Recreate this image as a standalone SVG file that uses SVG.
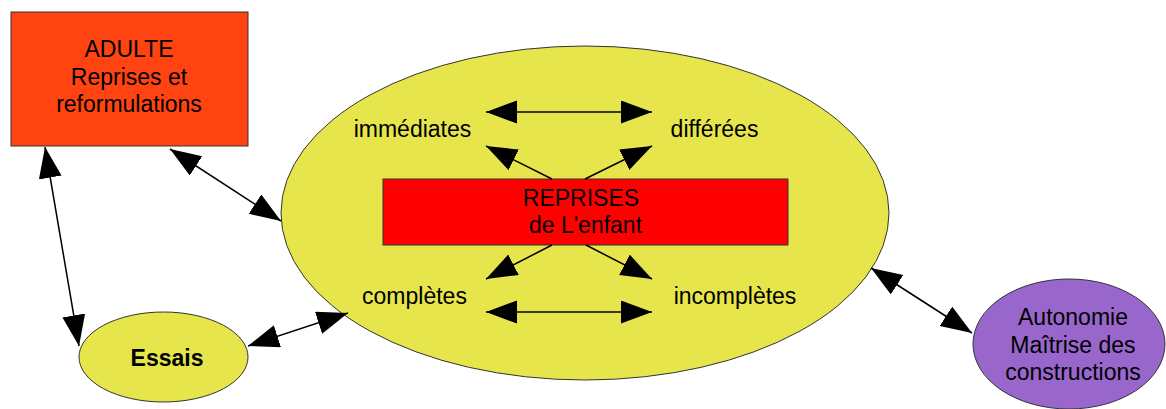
<svg xmlns="http://www.w3.org/2000/svg" width="1166" height="409" viewBox="0 0 1166 409">
<defs>
<marker id="ah" markerUnits="userSpaceOnUse" markerWidth="32" markerHeight="24" refX="31" refY="11.5" orient="auto-start-reverse" viewBox="0 0 32 24">
<path d="M0,0 L31,11.5 L0,23 z" fill="#000"/>
</marker>
</defs>
<style>
text{font-family:"Liberation Sans",Arial,sans-serif;font-size:23px;fill:#000;text-anchor:middle}
.b{font-weight:bold}
.shape{stroke:#333;stroke-width:1}
.yel{fill:#e6e64c}
.con{stroke:#000;stroke-width:1.5;fill:none;marker-start:url(#ah);marker-end:url(#ah)}
</style>
<rect width="1166" height="409" fill="#fff"/>
<g id="reprises-ellipse">
<ellipse class="shape yel" cx="585" cy="213" rx="304" ry="167"/>
</g>
<g id="adulte">
<rect class="shape" x="11" y="12" width="237" height="134" fill="#ff4411"/>
<text x="129" y="57">ADULTE</text>
<text x="129" y="85">Reprises et</text>
<text x="129" y="112">reformulations</text>
</g>
<g id="essais">
<ellipse class="shape yel" cx="163.5" cy="357" rx="84.5" ry="45"/>
<text class="b" x="167" y="366">Essais</text>
</g>
<g id="autonomie">
<ellipse class="shape" cx="1069" cy="344" rx="96" ry="65" fill="#9966cc"/>
<text x="1073" y="325">Autonomie</text>
<text x="1073" y="353">Maîtrise des</text>
<text x="1073" y="380">constructions</text>
</g>
<g id="reprises-enfant">
<rect class="shape" x="383" y="179" width="405" height="66" fill="#ff0000"/>
<text x="581" y="206">REPRISES</text>
<text x="585.5" y="233">de L'enfant</text>
</g>
<g id="immediates"><text x="412.5" y="137">immédiates</text></g>
<g id="differees"><text x="714.5" y="137">différées</text></g>
<g id="completes"><text x="414.5" y="304">complètes</text></g>
<g id="incompletes"><text x="735" y="304">incomplètes</text></g>
<g id="connectors">
<line class="con" x1="486" y1="112" x2="652" y2="112"/>
<line class="con" x1="486" y1="312" x2="652" y2="312"/>
<path d="M552,179 L486,146" stroke="#000" stroke-width="1.5" marker-end="url(#ah)"/>
<path d="M585,179 L652,146" stroke="#000" stroke-width="1.5" marker-end="url(#ah)"/>
<path d="M552,245 L486,279" stroke="#000" stroke-width="1.5" marker-end="url(#ah)"/>
<path d="M586,245 L652,279" stroke="#000" stroke-width="1.5" marker-end="url(#ah)"/>
<line class="con" x1="170" y1="149" x2="281" y2="221"/>
<line class="con" x1="45" y1="147" x2="79" y2="346"/>
<line class="con" x1="248" y1="346" x2="348" y2="313"/>
<line class="con" x1="871" y1="268" x2="972" y2="333"/>
</g>
</svg>
